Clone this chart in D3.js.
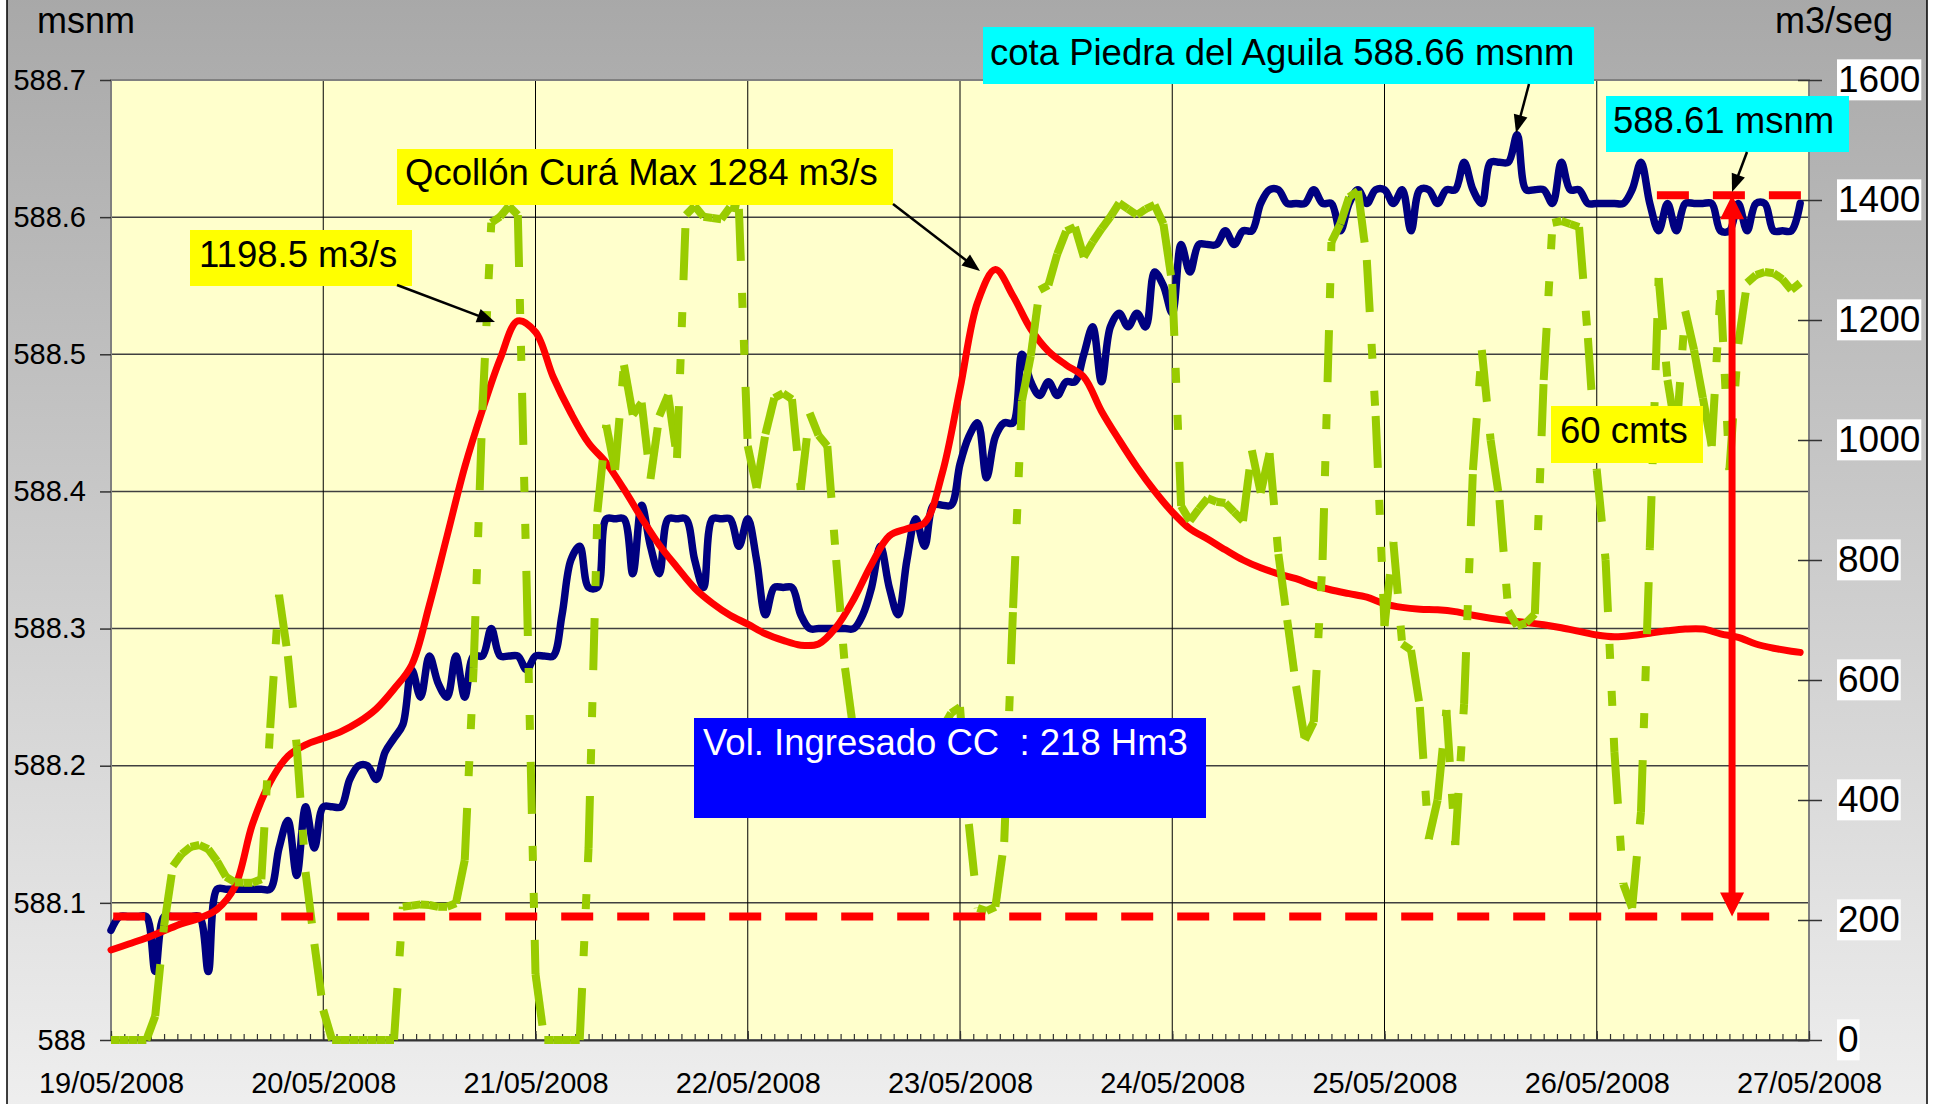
<!DOCTYPE html>
<html>
<head>
<meta charset="utf-8">
<script src="https://cdn.jsdelivr.net/npm/d3@7"></script>
<style>
  body { margin: 0; background: #fff; }
</style>
</head>
<body>
<svg id="chart" width="1933" height="1104"></svg>
<script>
// Embalse Piedra del Aguila - nivel y caudales, 19/05/2008 a 27/05/2008

const inicio = Date.UTC(2008, 4, 19);
const HORA = 3600e3;

// etiquetas de ejes
const fechas = ["19/05/2008", "20/05/2008", "21/05/2008", "22/05/2008", "23/05/2008",
                "24/05/2008", "25/05/2008", "26/05/2008", "27/05/2008"];
const nivelTicks = [588, 588.1, 588.2, 588.3, 588.4, 588.5, 588.6, 588.7];
const caudalTicks = [0, 200, 400, 600, 800, 1000, 1200, 1400, 1600];

// cota Piedra del Aguila (msnm), horaria desde 19/05 00:00
const nivelPA = [
  588.08, 588.09, 588.09, 588.09, 588.09, 588.05, 588.09, 588.09, 588.09, 588.09, 588.09, 588.05,
  588.11, 588.11, 588.11, 588.11, 588.11, 588.11, 588.11, 588.14, 588.16, 588.12, 588.17, 588.14,
  588.17, 588.17, 588.17, 588.19, 588.20, 588.20, 588.19, 588.21, 588.22, 588.23, 588.27, 588.25,
  588.28, 588.26, 588.25, 588.28, 588.25, 588.28, 588.28, 588.30, 588.28, 588.28, 588.28, 588.27,
  588.28, 588.28, 588.28, 588.31, 588.35, 588.36, 588.33, 588.33, 588.38, 588.38, 588.38, 588.34,
  588.39, 588.36, 588.34, 588.38, 588.38, 588.38, 588.35, 588.33, 588.38, 588.38, 588.38, 588.36,
  588.38, 588.35, 588.31, 588.33, 588.33, 588.33, 588.31, 588.30, 588.30, 588.30, 588.30, 588.30,
  588.30, 588.31, 588.33, 588.36, 588.33, 588.31, 588.35, 588.38, 588.36, 588.39, 588.39, 588.39,
  588.42, 588.44, 588.45, 588.41, 588.44, 588.45, 588.45, 588.50, 588.48, 588.47, 588.48, 588.47,
  588.48, 588.48, 588.50, 588.52, 588.48, 588.52, 588.53, 588.52, 588.53, 588.52, 588.56, 588.55,
  588.53, 588.58, 588.56, 588.58, 588.58, 588.58, 588.59, 588.58, 588.59, 588.59, 588.61, 588.62,
  588.62, 588.61, 588.61, 588.61, 588.62, 588.61, 588.61, 588.59, 588.61, 588.62, 588.61, 588.62,
  588.62, 588.61, 588.62, 588.59, 588.62, 588.62, 588.61, 588.62, 588.62, 588.64, 588.62, 588.61,
  588.64, 588.64, 588.64, 588.66, 588.62, 588.62, 588.62, 588.61, 588.64, 588.62, 588.62, 588.61,
  588.61, 588.61, 588.61, 588.61, 588.62, 588.64, 588.61, 588.59, 588.61, 588.59, 588.61, 588.61,
  588.61, 588.61, 588.59, 588.59, 588.61, 588.59, 588.61, 588.61, 588.59, 588.59, 588.59, 588.61
];

// caudal Collon Cura (m3/s), cada 2 horas
const horasCC = d3.range(0, 191, 2).concat([191]);
const caudalCC = [
  150, 160, 170, 182, 194, 203, 218, 255, 360, 430, 473, 492,
  503, 514, 530, 552, 585, 625, 725, 840, 955, 1050, 1135, 1198.5,
  1180, 1105, 1045, 995, 962, 918, 870, 825, 788, 753, 728, 708,
  693, 677, 666, 658, 660, 688, 735, 793, 840, 852, 862, 945,
  1085, 1230, 1284, 1240, 1185, 1148, 1125, 1105, 1048, 1000, 955, 915,
  880, 852, 835, 817, 800, 787, 777, 769, 758, 750, 744, 738,
  727, 721, 718, 717, 714, 708, 703, 699, 696, 692, 687, 681,
  675, 672, 674, 678, 682, 685, 685, 677, 671, 660, 653, 648,
  646
];

// caudal turbinado Piedra del Aguila (m3/s), horario
const caudalPA = [
  0, 0, 0, 0, 0, 40, 190, 290, 310, 322, 325, 318, 298, 272, 263, 262, 262, 268, 520, 742, 640, 490, 280, 160,
  50, 0, 0, 0, 0, 0, 0, 0, 0, 222, 224, 226, 225, 222, 222, 228, 300, 620, 1050, 1362, 1372, 1390, 1375, 760,
  110, 0, 0, 0, 0, 0, 320, 880, 1025, 950, 1125, 1042, 1062, 935, 1040, 1075, 970, 1375, 1390, 1372, 1370, 1368, 1388, 1385,
  990, 920, 1010, 1070, 1078, 1068, 917, 1045, 1008, 990, 800, 620, 510, 490, 470, 460, 455, 465, 480, 490, 500, 505, 520, 545,
  555, 360, 220, 215, 222, 330, 720, 1065, 1140, 1250, 1258, 1310, 1348, 1355, 1305, 1330, 1352, 1372, 1395, 1385, 1375, 1385, 1392, 1360,
  1260, 890, 865, 885, 903, 897, 895, 880, 865, 983, 912, 978, 810, 700, 590, 500, 530, 800, 1330, 1360, 1405, 1415, 1300, 1040,
  690, 830, 660, 650, 555, 335, 400, 550, 325, 560, 950, 1150, 1000, 900, 715, 690, 695, 710, 1100, 1362, 1365, 1360, 1355, 1170,
  950, 800, 480, 260, 220, 380, 820, 1270, 1100, 1010, 1215, 1150, 1070, 990, 1250, 950, 1160, 1262, 1275, 1280, 1278, 1268, 1250, 1262
];

// niveles de referencia (msnm) y hora de la flecha de 60 cmts
const nivelesRef = [588.09, 588.616];
const horaFlecha = 183.3;

const F = '"Liberation Sans", Arial, Helvetica, sans-serif';
const svg = d3.select("#chart").attr("font-family", F);
const m = { l: 111, r: 1809, t: 80, b: 1040 };

const fecha = h => new Date(inicio + h * HORA);
const x = d3.scaleUtc().domain([fecha(0), fecha(192)]).range([m.l, m.r]);
const yL = d3.scaleLinear().domain([588, 588.7]).range([m.b, m.t]);
const yR = d3.scaleLinear().domain([0, 1600]).range([m.b, m.t]);
const dias = d3.utcDay.range(fecha(0), fecha(193));

// fondo del grafico
const grad = svg.append("defs").append("linearGradient")
  .attr("id", "fondo").attr("x1", 0).attr("y1", 0).attr("x2", 0).attr("y2", 1);
grad.append("stop").attr("offset", 0).attr("stop-color", "#a8a8a8");
grad.append("stop").attr("offset", 1).attr("stop-color", "#efefef");
svg.append("rect").attr("x", 7).attr("y", -5).attr("width", 1920).attr("height", 1120)
  .attr("fill", "url(#fondo)").attr("stroke", "#000").attr("stroke-width", 1.5);

// area de trazado
svg.append("rect").attr("x", m.l).attr("y", m.t).attr("width", m.r - m.l).attr("height", m.b - m.t)
  .attr("fill", "#ffffcc");

// grilla
svg.append("g").selectAll("line").data(nivelTicks.slice(1, -1)).join("line")
  .attr("x1", m.l).attr("x2", m.r).attr("y1", d => yL(d)).attr("y2", d => yL(d))
  .attr("stroke", "#404040").attr("stroke-width", 1.5);
svg.append("g").selectAll("line").data(dias.slice(1, -1)).join("line")
  .attr("x1", d => x(d)).attr("x2", d => x(d)).attr("y1", m.t).attr("y2", m.b)
  .attr("stroke", "#000").attr("stroke-width", 1);

svg.append("rect").attr("x", m.l).attr("y", m.t).attr("width", m.r - m.l).attr("height", m.b - m.t)
  .attr("fill", "none").attr("stroke", "#808080").attr("stroke-width", 2);

// eje izquierdo
const ejeL = svg.append("g").attr("transform", `translate(${m.l},0)`)
  .call(d3.axisLeft(yL).tickValues(nivelTicks).tickSize(11).tickPadding(14)
    .tickFormat(d => String(+d.toFixed(1))))
  .attr("font-family", F).attr("font-size", 29);
ejeL.select(".domain").remove();
ejeL.selectAll(".tick line").attr("stroke", "#333").attr("stroke-width", 1.5);
ejeL.selectAll("text").attr("fill", "#000");

// eje derecho
const ejeR = svg.append("g").attr("transform", `translate(${m.r},0)`)
  .call(d3.axisRight(yR).tickValues(caudalTicks).tickSize(13).tickPadding(16).tickFormat(d3.format("d")))
  .attr("font-family", F).attr("font-size", 37);
ejeR.select(".domain").remove();
ejeR.selectAll(".tick line").attr("x1", -11).attr("stroke", "#333").attr("stroke-width", 1.5);
ejeR.selectAll("text").attr("fill", "#000");
ejeR.selectAll(".tick").each(function () {
  const b = d3.select(this).select("text").node().getBBox();
  d3.select(this).insert("rect", "text")
    .attr("x", b.x - 1).attr("y", b.y).attr("width", b.width + 2).attr("height", b.height)
    .attr("fill", "#fff");
});

// eje inferior: marcas menores cada 1.5 h y fechas
const menores = d3.range(0, 192.1, 1.5).map(fecha);
const ejeMenor = svg.append("g").attr("transform", `translate(0,${m.b})`)
  .call(d3.axisBottom(x).tickValues(menores).tickSize(-6).tickSizeOuter(0).tickFormat(""));
ejeMenor.select(".domain").attr("stroke", "#333").attr("stroke-width", 2);
ejeMenor.selectAll(".tick line").attr("stroke", "#333").attr("stroke-width", 1.2);

const ejeX = svg.append("g").attr("transform", `translate(0,${m.b})`)
  .call(d3.axisBottom(x).tickValues(dias).tickSize(-9).tickSizeOuter(0).tickPadding(32)
    .tickFormat((d, i) => fechas[i]))
  .attr("font-family", F).attr("font-size", 29);
ejeX.select(".domain").remove();
ejeX.selectAll(".tick line").attr("stroke", "#333").attr("stroke-width", 1.2);
ejeX.selectAll("text").attr("fill", "#000");

// titulos de ejes
svg.append("text").attr("x", 37).attr("y", 33).attr("font-size", 36).text("msnm");
svg.append("text").attr("x", 1893).attr("y", 33).attr("font-size", 36)
  .attr("text-anchor", "end").text("m3/seg");

// series
svg.append("path").datum(nivelPA)
  .attr("d", d3.line().x((d, i) => x(fecha(i))).y(d => yL(d)).curve(d3.curveCatmullRom))
  .attr("fill", "none").attr("stroke", "#000080").attr("stroke-width", 7.5)
  .attr("stroke-linejoin", "round").attr("stroke-linecap", "round");

svg.append("path").datum(caudalCC)
  .attr("d", d3.line().x((d, i) => x(fecha(horasCC[i]))).y(d => yR(d)).curve(d3.curveCatmullRom))
  .attr("fill", "none").attr("stroke", "#ff0000").attr("stroke-width", 7)
  .attr("stroke-linejoin", "round").attr("stroke-linecap", "round");

// linea raya-punto-punto; el patron reinicia en cada tramo
const ptsPA = caudalPA.map((q, i) => [x(fecha(i)), yR(q)]);
svg.append("g").selectAll("line").data(d3.pairs(ptsPA)).join("line")
  .attr("x1", d => d[0][0]).attr("y1", d => d[0][1])
  .attr("x2", d => d[1][0]).attr("y2", d => d[1][1])
  .attr("stroke", "#99cc00").attr("stroke-width", 8)
  .attr("stroke-dasharray", "52,32,15,32,15,32");

// lineas de referencia
svg.append("line")
  .attr("x1", x(fecha(0.25))).attr("x2", x(fecha(187.6)))
  .attr("y1", yL(nivelesRef[0])).attr("y2", yL(nivelesRef[0]))
  .attr("stroke", "#ff0000").attr("stroke-width", 8).attr("stroke-dasharray", "32,24");
svg.append("line")
  .attr("x1", x(fecha(174.8))).attr("x2", x(fecha(191.1)))
  .attr("y1", yL(nivelesRef[1])).attr("y2", yL(nivelesRef[1]))
  .attr("stroke", "#ff0000").attr("stroke-width", 8).attr("stroke-dasharray", "32,24");

function flecha(g, p0, p1, color, ancho, largo, semi) {
  const dx = p1[0] - p0[0], dy = p1[1] - p0[1], L = Math.hypot(dx, dy);
  const ux = dx / L, uy = dy / L;
  const bx = p1[0] - ux * largo, by = p1[1] - uy * largo;
  g.append("line").attr("x1", p0[0]).attr("y1", p0[1]).attr("x2", bx + ux * 2).attr("y2", by + uy * 2)
    .attr("stroke", color).attr("stroke-width", ancho);
  g.append("polygon")
    .attr("points", [p1, [bx - uy * semi, by + ux * semi], [bx + uy * semi, by - ux * semi]]
      .map(p => p.join(",")).join(" "))
    .attr("fill", color);
}

const gA = svg.append("g");
const xa = x(fecha(horaFlecha));
const yMedio = (yL(nivelesRef[0]) + yL(nivelesRef[1])) / 2;
flecha(gA, [xa, yMedio], [xa, yL(nivelesRef[1])], "#ff0000", 7, 24, 12);
flecha(gA, [xa, yMedio], [xa, yL(nivelesRef[0])], "#ff0000", 7, 24, 12);

// anotaciones
const notas = [
  { texto: "1198.5 m3/s", fondo: "#ffff00", color: "#000", caja: [190, 230, 222, 56], t: [199, 267],
    flecha: [[397, 285], [495, 322]] },
  { texto: "Qcollón Curá Max 1284 m3/s", fondo: "#ffff00", color: "#000", caja: [397, 149, 496, 56], t: [405, 185],
    flecha: [[893, 204], [980, 271]] },
  { texto: "cota Piedra del Aguila 588.66 msnm", fondo: "#00ffff", color: "#000", caja: [983, 27, 611, 57], t: [990, 65],
    flecha: [[1529, 84], [1516, 133]] },
  { texto: "588.61 msnm", fondo: "#00ffff", color: "#000", caja: [1606, 96, 243, 56], t: [1613, 133],
    flecha: [[1747, 152], [1732, 192]] },
  { texto: "60 cmts", fondo: "#ffff00", color: "#000", caja: [1551, 406, 152, 57], t: [1560, 443] },
  { texto: "Vol. Ingresado CC  : 218 Hm3", fondo: "#0000ff", color: "#fff", caja: [694, 718, 512, 100], t: [703, 755] }
];

const gN = svg.append("g");
notas.forEach(n => {
  gN.append("rect").attr("x", n.caja[0]).attr("y", n.caja[1])
    .attr("width", n.caja[2]).attr("height", n.caja[3]).attr("fill", n.fondo);
  gN.append("text").attr("x", n.t[0]).attr("y", n.t[1]).attr("font-size", 36.5)
    .attr("fill", n.color).style("white-space", "pre").text(n.texto);
  if (n.flecha) flecha(gN, n.flecha[0], n.flecha[1], "#000", 2.5, 18, 7);
});
</script>
</body>
</html>
